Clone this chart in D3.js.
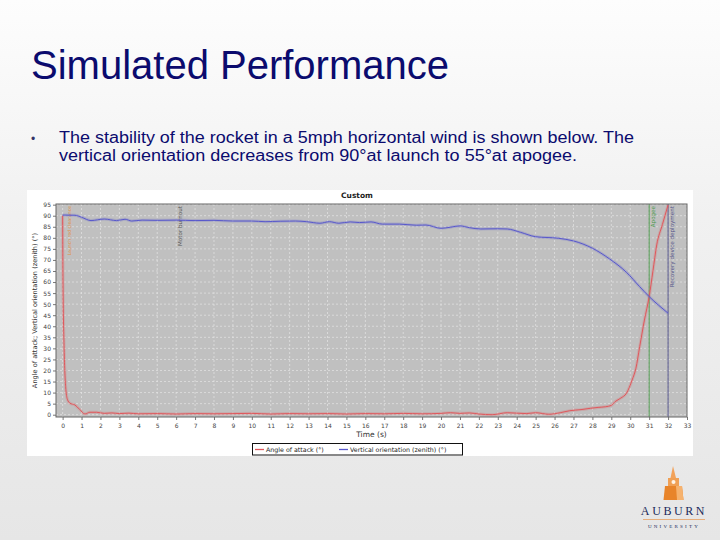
<!DOCTYPE html>
<html>
<head>
<meta charset="utf-8">
<script src="https://cdn.jsdelivr.net/npm/d3@7"></script>
<style>
  html, body { margin: 0; padding: 0; background: #f0f0f0; }
  svg { display: block; }
</style>
</head>
<body>
<svg id="slide" width="720" height="540"></svg>
<script>
// ---------- data ----------
const slideTitle = "Simulated Performance";
const bulletLines = [
  "The stability of the rocket in a 5mph horizontal wind is shown below. The",
  "vertical orientation decreases from 90°at launch to 55°at apogee."
];
const chartTitle = "Custom";
const xAxisTitle = "Time (s)";
const yAxisTitle = "Angle of attack; Vertical orientation (zenith) (°)";
const seriesNames = ["Angle of attack (°)", "Vertical orientation (zenith) (°)"];

const xTicks = d3.range(0, 34, 1);
const yTicks = d3.range(0, 100, 5);

const aoaTime = [0, 0.02, 0.08, 0.16, 0.25, 0.39, 0.65, 0.9, 1.18, 1.44, 1.8, 2.2, 2.6, 3, 3.5, 4, 5, 6, 7, 8, 9, 10, 11, 12, 13, 14, 15, 16, 17, 18, 19, 20, 20.5, 21, 21.5, 22, 22.7, 23.5, 24.5, 25, 25.7, 26.3, 26.8, 27.4, 27.9, 28.3, 28.7, 29.0, 29.2, 29.5, 29.8, 30.1, 30.3, 30.5, 30.75, 31.0, 31.2, 31.4, 31.7, 32.0];
const aoaValues = [90, 60, 30, 12.7, 7, 5.2, 4.4, 2.4, 0.3, 1.1, 1.1, 0.6, 0.8, 0.5, 0.7, 0.4, 0.5, 0.3, 0.5, 0.4, 0.5, 0.6, 0.3, 0.5, 0.4, 0.5, 0.3, 0.5, 0.4, 0.6, 0.4, 0.6, 0.9, 0.6, 0.8, 0.3, 0.0, 0.9, 0.5, 0.9, 0.2, 0.9, 1.8, 2.3, 2.9, 3.3, 3.6, 4.2, 5.9, 7.5, 9.7, 15.7, 21, 30.8, 42.8, 53.4, 65, 76.8, 86, 94.9];

const orientTime = [0, 0.65, 1.0, 1.5, 2.2, 2.85, 3.3, 3.65, 4.2, 5, 6, 7, 8, 9, 10, 10.7, 11.5, 12.3, 12.9, 13.6, 14.1, 14.6, 15.2, 15.7, 16.3, 16.9, 17.8, 18.7, 19.2, 20.0, 20.5, 21.0, 21.5, 22.1, 23.0, 23.5, 24.2, 25.0, 26.2, 27.0, 28.0, 28.9, 29.8, 30.5, 31.0, 31.5, 32.0];
const orientValues = [90.3, 90.2, 89.3, 87.8, 88.5, 87.8, 88.4, 87.6, 88.0, 87.9, 88.0, 87.8, 87.9, 87.6, 87.6, 87.3, 87.5, 87.6, 87.3, 86.6, 87.3, 86.6, 87.2, 86.9, 87.2, 86.2, 86.2, 85.7, 85.8, 84.3, 84.8, 85.4, 84.6, 84.0, 84.1, 84.0, 82.5, 80.5, 79.8, 78.6, 75.3, 70.5, 64.4, 57.9, 53.4, 49.5, 45.9];

const eventNames = ["Launch rod clearance", "Motor burnout", "Apogee", "Recovery device deployment"];
const eventTimes = [0.16, 6.0, 31.0, 32.0];

// ---------- styles ----------
const navy = "#0b0b6e";
const eventColors = ["#e0904a", "#555555", "#4f9a4f", "#55558a"];
const eventLine = [false, false, true, true];
const seriesColors = ["#e0585c", "#5858cc"];
const bulletWidths = [575, 518];

const svg = d3.select("#slide");

// background gradient
const defs = svg.append("defs");
const grad = defs.append("linearGradient").attr("id", "bg").attr("x1", 0).attr("y1", 0).attr("x2", 0).attr("y2", 1);
grad.append("stop").attr("offset", "0%").attr("stop-color", "#fdfdfd");
grad.append("stop").attr("offset", "40%").attr("stop-color", "#f1f1f1");
grad.append("stop").attr("offset", "100%").attr("stop-color", "#e6e6e6");
svg.append("rect").attr("width", 720).attr("height", 540).attr("fill", "url(#bg)");

// slide title
svg.append("text").attr("x", 31).attr("y", 79)
  .attr("font-family", "Liberation Sans, Arial, sans-serif").attr("font-size", 40)
  .attr("fill", navy).text(slideTitle);

// bullet
svg.append("text").attr("x", 31).attr("y", 143)
  .attr("font-family", "Liberation Sans, Arial, sans-serif").attr("font-size", 12)
  .attr("fill", "#333366").text("•");
bulletLines.forEach((ln, i) => {
  svg.append("text").attr("x", 59).attr("y", 143 + i * 17.6)
    .attr("font-family", "Liberation Sans, Arial, sans-serif").attr("font-size", 15.6)
    .attr("textLength", bulletWidths[i]).attr("lengthAdjust", "spacingAndGlyphs")
    .attr("fill", navy).text(ln);
});

// ---------- chart panel ----------
svg.append("rect").attr("x", 27).attr("y", 190).attr("width", 666).attr("height", 266).attr("fill", "#ffffff");

const plot = { left: 56, right: 687, top: 204, bottom: 417 };
const x = d3.scaleLinear().domain([-0.35, 33]).range([plot.left, plot.right]);
const y = d3.scaleLinear().domain([-1.04, 95.3]).range([plot.bottom, plot.top]);

const chartFont = "DejaVu Sans, Verdana, sans-serif";

svg.append("text").attr("x", 357).attr("y", 198).attr("text-anchor", "middle")
  .attr("font-family", chartFont).attr("font-size", 7.5).attr("font-weight", "bold")
  .attr("fill", "#222").text(chartTitle);

svg.append("rect").attr("x", plot.left).attr("y", plot.top)
  .attr("width", plot.right - plot.left).attr("height", plot.bottom - plot.top)
  .attr("fill", "#c0c0c0");

// grid
const grid = svg.append("g").attr("stroke", "#ffffff").attr("stroke-width", 0.7)
  .attr("stroke-dasharray", "2,2").attr("opacity", 0.6);
grid.selectAll("line.v").data(xTicks).join("line").attr("class", "v")
  .attr("x1", d => x(d)).attr("x2", d => x(d)).attr("y1", plot.top).attr("y2", plot.bottom);
grid.selectAll("line.h").data(yTicks).join("line").attr("class", "h")
  .attr("x1", plot.left).attr("x2", plot.right).attr("y1", d => y(d)).attr("y2", d => y(d));

// axes
const xAxis = d3.axisBottom(x).tickValues(xTicks).tickSize(3).tickPadding(4);
const yAxis = d3.axisLeft(y).tickValues(yTicks).tickSize(3).tickPadding(2);
const gx = svg.append("g").attr("transform", `translate(0,${plot.bottom})`).call(xAxis);
const gy = svg.append("g").attr("transform", `translate(${plot.left},0)`).call(yAxis);
[gx, gy].forEach(g => {
  g.select(".domain").remove();
  g.selectAll(".tick line").attr("stroke", "#777");
  g.selectAll(".tick text").attr("font-family", chartFont).attr("font-size", 6).attr("fill", "#444");
});

svg.append("text").attr("x", (plot.left + plot.right) / 2).attr("y", 437).attr("text-anchor", "middle")
  .attr("font-family", chartFont).attr("font-size", 7.5).attr("fill", "#333").text(xAxisTitle);
svg.append("text").attr("transform", `translate(37,${(plot.top + plot.bottom) / 2}) rotate(-90)`)
  .attr("text-anchor", "middle").attr("font-family", chartFont).attr("font-size", 6.6)
  .attr("fill", "#333").text(yAxisTitle);

// event markers
const clip = defs.append("clipPath").attr("id", "plotclip");
clip.append("rect").attr("x", plot.left).attr("y", plot.top).attr("width", plot.right - plot.left).attr("height", plot.bottom - plot.top);

eventTimes.forEach((t, i) => {
  if (eventLine[i]) {
    svg.append("line").attr("x1", x(t)).attr("x2", x(t)).attr("y1", plot.top).attr("y2", plot.bottom)
      .attr("stroke", eventColors[i]).attr("stroke-width", 1);
  }
  svg.append("text").attr("transform", `translate(${x(t) + 5.5},${plot.top + 2}) rotate(-90)`)
    .attr("text-anchor", "end").attr("font-family", chartFont)
    .attr("font-size", i === 0 ? 4.6 : 5.6).attr("fill", eventColors[i]).text(eventNames[i]);
});

// series
const line = d3.line().x(d => x(d[0])).y(d => y(d[1])).curve(d3.curveMonotoneX);
const series = [d3.zip(aoaTime, aoaValues), d3.zip(orientTime, orientValues)];
const gLines = svg.append("g").attr("clip-path", "url(#plotclip)");
series.forEach((s, i) => {
  gLines.append("path").attr("d", line(s)).attr("fill", "none")
    .attr("stroke", seriesColors[i]).attr("stroke-width", 3).attr("opacity", 0.22);
  gLines.append("path").attr("d", line(s)).attr("fill", "none")
    .attr("stroke", seriesColors[i]).attr("stroke-width", 1);
});

// plot border
svg.append("rect").attr("x", plot.left).attr("y", plot.top)
  .attr("width", plot.right - plot.left).attr("height", plot.bottom - plot.top)
  .attr("fill", "none").attr("stroke", "#666").attr("stroke-width", 1);

// legend
const lg = svg.append("g");
lg.append("rect").attr("x", 252.5).attr("y", 443.5).attr("width", 210).attr("height", 11.5)
  .attr("fill", "#fff").attr("stroke", "#111").attr("stroke-width", 1);
const legendX = [255, 339];
seriesNames.forEach((n, i) => {
  lg.append("line").attr("x1", legendX[i]).attr("x2", legendX[i] + 9).attr("y1", 449.5).attr("y2", 449.5)
    .attr("stroke", seriesColors[i]).attr("stroke-width", 1.3);
  lg.append("text").attr("x", legendX[i] + 11).attr("y", 451.8)
    .attr("font-family", chartFont).attr("font-size", 6.3).attr("fill", "#222").text(n);
});

// ---------- logo ----------
const logo = svg.append("g");
logo.append("polygon").attr("points", "673,466 670.5,478 676,478").attr("fill", "#f2a25a");
logo.append("rect").attr("x", 668).attr("y", 478).attr("width", 11).attr("height", 8).attr("fill", "#f0a055");
logo.append("circle").attr("cx", 673.5).attr("cy", 482).attr("r", 2).attr("fill", "#fff3e6");
logo.append("polygon").attr("points", "665,486 682,486 683.5,500 663.5,500").attr("fill", "#e8842a");
logo.append("polygon").attr("points", "676,486 682,486 683.5,500 677,500").attr("fill", "#f6b26e");
logo.append("text").attr("x", 674).attr("y", 515).attr("text-anchor", "middle")
  .attr("font-family", "Liberation Serif, Times New Roman, serif").attr("font-size", 12)
  .attr("letter-spacing", 2.6).attr("fill", "#1a2a5a").text("AUBURN");
logo.append("line").attr("x1", 643).attr("x2", 705).attr("y1", 519.5).attr("y2", 519.5)
  .attr("stroke", "#e8a060").attr("stroke-width", 0.8);
logo.append("text").attr("x", 674).attr("y", 527.5).attr("text-anchor", "middle")
  .attr("font-family", "Liberation Serif, Times New Roman, serif").attr("font-size", 5)
  .attr("letter-spacing", 2.2).attr("fill", "#1a2a5a").text("UNIVERSITY");
</script>
</body>
</html>
